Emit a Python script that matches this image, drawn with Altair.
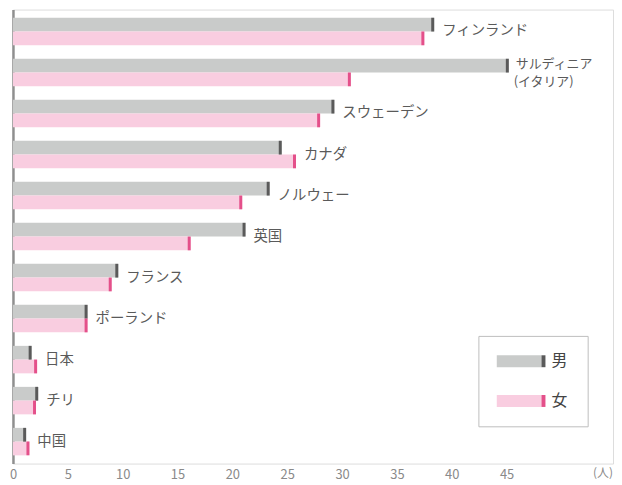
import altair as alt
import pandas as pd

countries = ["フィンランド", "サルディニア", "スウェーデン", "カナダ", "ノルウェー",
             "英国", "フランス", "ポーランド", "日本", "チリ", "中国"]
sub_labels = ["", "(イタリア)", "", "", "", "", "", "", "", "", ""]
male = [38.4, 45.2, 29.3, 24.5, 23.4, 21.2, 9.6, 6.8, 1.7, 2.3, 1.2]
female = [37.5, 30.8, 28.0, 25.8, 20.9, 16.2, 9.0, 6.8, 2.2, 2.1, 1.5]
sexes = ["男", "女"]
x_ticks = [0, 5, 10, 15, 20, 25, 30, 35, 40, 45]
unit_label = "(人)"

bar_colors = ["#c9cbca", "#f9cde0"]
cap_colors = ["#5a5a5a", "#e4508a"]

rows = []
for i, c in enumerate(countries):
    rows.append({"country": c, "sex": sexes[0], "value": male[i]})
    rows.append({"country": c, "sex": sexes[1], "value": female[i]})
df = pd.DataFrame(rows)
lab = pd.DataFrame({"country": countries, "sub": sub_labels,
                    "mx": [max(m, f) for m, f in zip(male, female)]})

W, H = 604, 457
xscale = alt.Scale(domain=[0, 54.7], nice=False, zero=True)
yscale = alt.Scale(domain=countries, paddingInner=0.33, paddingOuter=0.2)
yoff = alt.Scale(domain=sexes, paddingInner=0, paddingOuter=0)
color = alt.Scale(domain=sexes, range=bar_colors)
capcolor = alt.Scale(domain=sexes, range=cap_colors)

base = alt.Chart(df)
bars = base.mark_bar(cornerRadius=0, strokeWidth=0).encode(
    x=alt.X("value:Q", scale=xscale,
            axis=alt.Axis(values=x_ticks, title=None, ticks=False, grid=False,
                          domain=False, labelColor="#8a8a8a", labelFontSize=13,
                          labelPadding=5, labelFlush=False)),
    y=alt.Y("country:N", scale=yscale,
            axis=alt.Axis(title=None, labels=False, ticks=False, domainColor="#8f8f8f",
                          domainWidth=2.5)),
    yOffset=alt.YOffset("sex:N", scale=yoff),
    color=alt.Color("sex:N", scale=color, legend=None),
)
caps = base.transform_calculate(start="datum.value - 0.27").mark_bar().encode(
    x=alt.X("start:Q", scale=xscale),
    x2="value:Q",
    y=alt.Y("country:N", scale=yscale),
    yOffset=alt.YOffset("sex:N", scale=yoff),
    color=alt.Color("sex:N", scale=capcolor, legend=None),
)
tstyle = dict(align="left", baseline="middle", color="#5a5a5a")
labels1 = alt.Chart(lab).transform_filter("datum.sub == ''").mark_text(
    dx=8, fontSize=14.5, **tstyle).encode(
    x=alt.X("mx:Q", scale=xscale), y=alt.Y("country:N", scale=yscale), text="country:N")
labels2a = alt.Chart(lab).transform_filter("datum.sub != ''").mark_text(
    dx=7, dy=-9, fontSize=13, **tstyle).encode(
    x=alt.X("mx:Q", scale=xscale), y=alt.Y("country:N", scale=yscale), text="country:N")
labels2b = alt.Chart(lab).transform_filter("datum.sub != ''").mark_text(
    dx=5, dy=10, fontSize=13, **tstyle).encode(
    x=alt.X("mx:Q", scale=xscale), y=alt.Y("country:N", scale=yscale), text="sub:N")

unit = alt.Chart(pd.DataFrame({"t": [unit_label]})).mark_text(
    fontSize=12, color="#8a8a8a", align="center", baseline="middle").encode(
    x=alt.value(594), y=alt.value(467), text="t:N")

# legend
lbox = alt.Chart(pd.DataFrame({"a": [0]})).mark_rect(
    fill="white", stroke="#bdbdbd", strokeWidth=1).encode(
    x=alt.value(469), x2=alt.value(579), y=alt.value(329), y2=alt.value(420))
leg = pd.DataFrame({"sex": sexes, "y0": [348, 388], "y1": [360, 400], "ty": [354, 394]})
lbar = alt.Chart(leg).mark_rect().encode(
    x=alt.value(487), x2=alt.value(532), y=alt.Y("y0:Q", scale=None), y2="y1:Q",
    color=alt.Color("sex:N", scale=color, legend=None))
lcap = alt.Chart(leg).mark_rect().encode(
    x=alt.value(532), x2=alt.value(536), y=alt.Y("y0:Q", scale=None), y2="y1:Q",
    color=alt.Color("sex:N", scale=capcolor, legend=None))
ltext = alt.Chart(leg).mark_text(align="left", baseline="middle", fontSize=16,
                                 color="#444444").encode(
    x=alt.value(542), y=alt.Y("ty:Q", scale=None), text="sex:N")

chart = alt.layer(bars, caps, labels1, labels2a, labels2b, unit, lbox, lbar, lcap, ltext).resolve_scale(
    color="independent").properties(
    width=W, height=H, padding={"left": 1, "top": 0, "right": 0, "bottom": 0}
).configure_view(stroke="#d8d8d8", strokeWidth=1.5).configure(
    font="Noto Sans CJK JP")

chart.save("out.html", embed_options={"renderer": "svg", "actions": False})
